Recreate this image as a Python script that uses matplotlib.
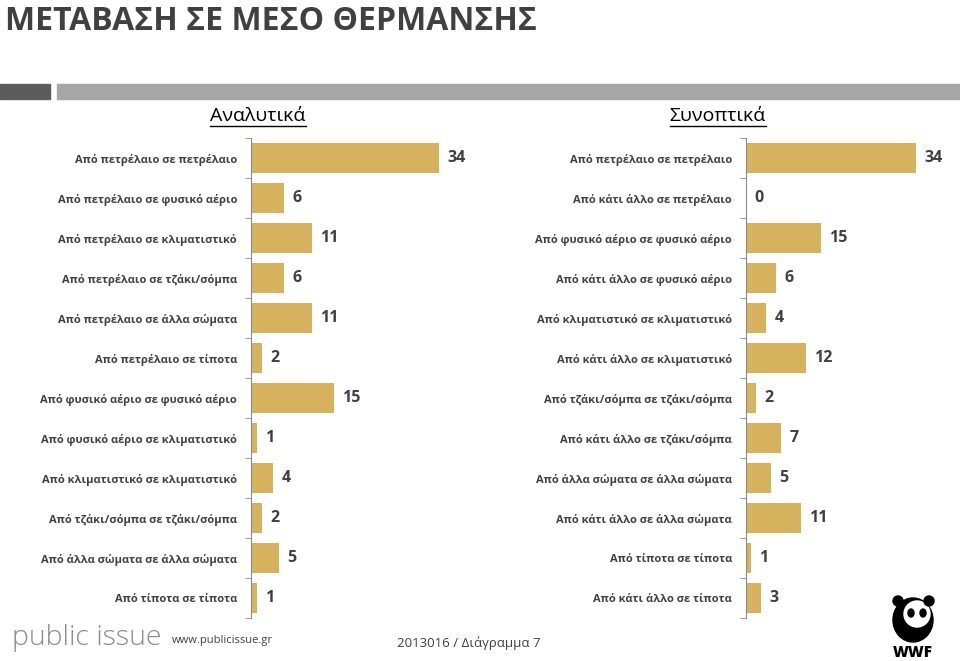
import matplotlib
matplotlib.use("Agg")
import matplotlib.pyplot as plt
from matplotlib.patches import Rectangle, Ellipse

plt.rcParams['font.family'] = ['Open Sans', 'DejaVu Sans']

# data
left_labels = ["Από πετρέλαιο σε πετρέλαιο", "Από πετρέλαιο σε φυσικό αέριο",
               "Από πετρέλαιο σε κλιματιστικό", "Από πετρέλαιο σε τζάκι/σόμπα",
               "Από πετρέλαιο σε άλλα σώματα", "Από πετρέλαιο σε τίποτα",
               "Από φυσικό αέριο σε φυσικό αέριο", "Από φυσικό αέριο σε κλιματιστικό",
               "Από κλιματιστικό σε κλιματιστικό", "Από τζάκι/σόμπα σε τζάκι/σόμπα",
               "Από άλλα σώματα σε άλλα σώματα", "Από τίποτα σε τίποτα"]
left_values = [34, 6, 11, 6, 11, 2, 15, 1, 4, 2, 5, 1]

right_labels = ["Από πετρέλαιο σε πετρέλαιο", "Από κάτι άλλο σε πετρέλαιο",
                "Από φυσικό αέριο σε φυσικό αέριο", "Από κάτι άλλο σε φυσικό αέριο",
                "Από κλιματιστικό σε κλιματιστικό", "Από κάτι άλλο σε κλιματιστικό",
                "Από τζάκι/σόμπα σε τζάκι/σόμπα", "Από κάτι άλλο σε τζάκι/σόμπα",
                "Από άλλα σώματα σε άλλα σώματα", "Από κάτι άλλο σε άλλα σώματα",
                "Από τίποτα σε τίποτα", "Από κάτι άλλο σε τίποτα"]
right_values = [34, 0, 15, 6, 4, 12, 2, 7, 5, 11, 1, 3]

bar_color = "#D7B25E"
text_color = "#404040"
W, H = 960, 661

fig = plt.figure(figsize=(9.6, 6.61), dpi=100)


def panel(x0, width_px, xmax, labels, values):
    ax = fig.add_axes([x0 / W, 1 - 618 / H, width_px / W, 480 / H])
    y = list(range(len(labels)))
    ax.barh(y, values, height=0.75, color=bar_color)
    ax.set_xlim(0, xmax)
    ax.set_ylim(len(labels) - 0.5, -0.5)
    ax.set_yticks(y)
    ax.set_yticklabels(labels, fontsize=8, fontweight='bold', color=text_color)
    ax.set_yticks([i - 0.5 for i in range(len(labels) + 1)], minor=True)
    ax.tick_params(axis='y', which='major', length=0, pad=10)
    ax.tick_params(axis='y', which='minor', length=4, color='#8a8a8a')
    ax.set_xticks([])
    for s in ['top', 'right', 'bottom']:
        ax.spines[s].set_visible(False)
    ax.spines['left'].set_color('#8a8a8a')
    for yi, v in zip(y, values):
        ax.annotate(str(v), (v, yi), xytext=(6, 0), textcoords='offset points',
                    va='center', ha='left', fontsize=11.5, fontweight='bold',
                    color=text_color)
    return ax


panel(251, 221, 40, left_labels, left_values)
panel(746, 200, 40, right_labels, right_values)

# title and header bar
fig.text(5 / W, 1 - 30 / H, "ΜΕΤΑΒΑΣΗ ΣΕ ΜΕΣΟ ΘΕΡΜΑΝΣΗΣ", fontsize=23,
         fontweight='bold', color=text_color, va='baseline', ha='left')
fig.add_artist(Rectangle((0, 1 - 99 / H), 50 / W, 15 / H, transform=fig.transFigure,
                         color='#5c5c5c'))
fig.add_artist(Rectangle((57 / W, 1 - 99 / H), 903 / W, 15 / H, transform=fig.transFigure,
                         color='#a6a6a6'))

for xc, t in [(258, "Αναλυτικά"), (718, "Συνοπτικά")]:
    txt = fig.text(xc / W, 1 - 116 / H, t, fontsize=14, color='black',
                   ha='center', va='center')
    fig.canvas.draw()
    bb = txt.get_window_extent()
    fig.add_artist(plt.Line2D([bb.x0 / W, bb.x1 / W], [1 - 126 / H, 1 - 126 / H],
                              transform=fig.transFigure, color='black', lw=1))

# footer
fig.text(12 / W, 1 - 638 / H, "public issue", fontsize=20.5, color='#8c8c8c',
         fontweight='light', ha='left', va='center')
fig.text(172 / W, 1 - 641 / H, "www.publicissue.gr", fontsize=8, color=text_color,
         ha='left', va='center')
fig.text(397 / W, 1 - 643 / H, "2013016 / Διάγραμμα 7", fontsize=9.5, color=text_color,
         ha='left', va='center')

# rough WWF mark
fig.add_artist(Ellipse((913 / W, 1 - 620 / H), 40 / W, 44 / H, transform=fig.transFigure,
                       color='black'))
fig.add_artist(Ellipse((917 / W, 1 - 614 / H), 26 / W, 26 / H, transform=fig.transFigure,
                       color='white'))
fig.add_artist(Ellipse((898 / W, 1 - 601 / H), 10 / W, 10 / H, transform=fig.transFigure,
                       color='black'))
fig.add_artist(Ellipse((929 / W, 1 - 601 / H), 10 / W, 10 / H, transform=fig.transFigure,
                       color='black'))
fig.add_artist(Ellipse((911 / W, 1 - 613 / H), 6 / W, 8 / H, transform=fig.transFigure,
                       color='black'))
fig.add_artist(Ellipse((923 / W, 1 - 613 / H), 6 / W, 8 / H, transform=fig.transFigure,
                       color='black'))
fig.text(913 / W, 1 - 653 / H, "WWF", fontsize=11, fontweight='heavy', color='black',
         ha='center', va='center')

fig.savefig("out.png", dpi=100, facecolor='white')
